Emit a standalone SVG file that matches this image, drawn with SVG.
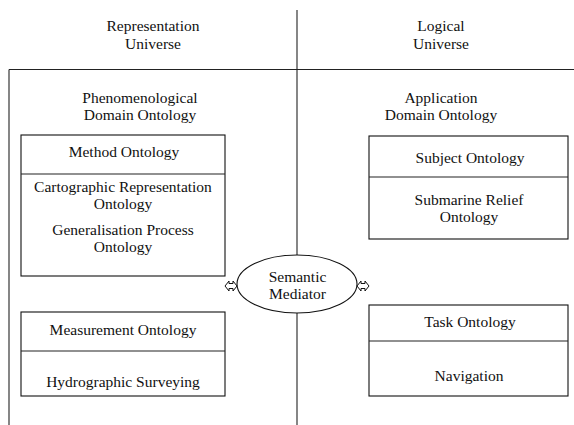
<svg xmlns="http://www.w3.org/2000/svg" width="574" height="425" viewBox="0 0 574 425">
<style>
.ln{stroke:#222;stroke-width:1.1;fill:none}
.box{stroke:#111;stroke-width:1.1;fill:#fff}
.arr{stroke:#111;stroke-width:1;fill:#fff}
</style>
<g id="frame">
<line class="ln" x1="297" y1="10" x2="297" y2="425"/>
<line class="ln" x1="9" y1="69.5" x2="574" y2="69.5"/>
<line class="ln" x1="9" y1="69.5" x2="9" y2="425"/>
</g>
<g font-family="Liberation Serif" font-size="15.5" fill="#111" text-anchor="middle">
<g id="representation-universe"><text x="153" y="31">Representation</text><text x="153" y="49">Universe</text></g>
<g id="logical-universe"><text x="441" y="31">Logical</text><text x="441" y="49">Universe</text></g>
<g id="phenomenological"><text x="140" y="103">Phenomenological</text><text x="140" y="120">Domain Ontology</text></g>
<g id="application"><text x="441" y="103">Application</text><text x="441" y="120">Domain Ontology</text></g>
<g id="method-ontology">
<rect class="box" x="21" y="135" width="204" height="141"/>
<line class="ln" x1="21" y1="174" x2="225" y2="174"/>
<text x="124" y="157">Method Ontology</text>
<text x="123" y="192">Cartographic Representation</text>
<text x="123" y="209">Ontology</text>
<text x="123" y="235">Generalisation Process</text>
<text x="123" y="252">Ontology</text>
</g>
<g id="measurement-ontology">
<rect class="box" x="21" y="312" width="204" height="84"/>
<line class="ln" x1="21" y1="351" x2="225" y2="351"/>
<text x="123" y="335">Measurement Ontology</text>
<text x="123" y="387">Hydrographic Surveying</text>
</g>
<g id="subject-ontology">
<rect class="box" x="369" y="136" width="199" height="103"/>
<line class="ln" x1="369" y1="177" x2="568" y2="177"/>
<text x="470" y="163">Subject Ontology</text>
<text x="469" y="205">Submarine Relief</text>
<text x="469" y="222">Ontology</text>
</g>
<g id="task-ontology">
<rect class="box" x="369" y="305" width="199" height="91"/>
<line class="ln" x1="369" y1="341" x2="568" y2="341"/>
<text x="470" y="327">Task Ontology</text>
<text x="469" y="381">Navigation</text>
</g>
<g id="semantic-mediator">
<ellipse class="box" cx="297" cy="284" rx="60" ry="29"/>
<text x="297.5" y="282">Semantic</text>
<text x="297.5" y="299">Mediator</text>
</g>
</g>
<g id="connectors">
<path class="arr" d="M225,286 L229,281 L229,283.5 L233,283.5 L233,281 L237,286 L233,291 L233,288.5 L229,288.5 L229,291 Z"/>
<path class="arr" d="M357,286 L361,281 L361,283.5 L365,283.5 L365,281 L369,286 L365,291 L365,288.5 L361,288.5 L361,291 Z"/>
</g>
</svg>
